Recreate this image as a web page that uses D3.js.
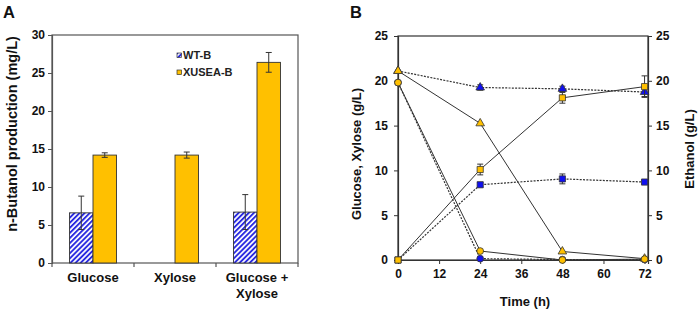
<!DOCTYPE html>
<html><head><meta charset="utf-8">
<script src="https://cdn.jsdelivr.net/npm/d3@7"></script>
<style>
html,body{margin:0;padding:0;background:#fff;}
svg{display:block;font-family:"Liberation Sans",Arial,sans-serif;font-weight:bold;}
</style></head>
<body>
<svg id="chart" width="699" height="313"></svg>
<script>
// ---------- Panel A data ----------
const categories = ["Glucose", "Xylose", "Glucose + Xylose"];
const categoryLines = [["Glucose"], ["Xylose"], ["Glucose +", "Xylose"]];
const seriesA = ["WT-B", "XUSEA-B"];
const wtB = [6.6, null, 6.7];
const wtBErr = [2.2, null, 2.3];
const xuseaB = [14.2, 14.2, 26.4];
const xuseaBErr = [0.3, 0.4, 1.3];
const yTicksA = [0, 5, 10, 15, 20, 25, 30];

// ---------- Panel B data ----------
const times = [0, 24, 48, 72];
const xTicksB = [0, 12, 24, 36, 48, 60, 72];
const yTicksB = [0, 5, 10, 15, 20, 25];
const glucoseWT = [19.8, 0.15, 0.05, 0.05];
const glucoseXU = [19.8, 1.0, 0.0, 0.1];
const xyloseWT = [21.1, 19.25, 19.1, 18.75];
const xyloseWTErr = [0, 0.3, 0.3, 0.5];
const xyloseXU = [21.1, 15.25, 0.95, 0.15];
const ethanolWT = [0, 8.4, 9.05, 8.7];
const ethanolWTErr = [0, 0.25, 0.55, 0.2];
const ethanolXU = [0, 10.1, 18.1, 19.35];
const ethanolXUErr = [0, 0.6, 0.6, 1.2];

const YELLOW = "#FFC000", BLUE = "#1010F0";
const svg = d3.select("#chart");

// hatch pattern
const defs = svg.append("defs");
const pat = defs.append("pattern").attr("id", "hatch").attr("patternUnits", "userSpaceOnUse")
  .attr("width", 3.6).attr("height", 3.6).attr("patternTransform", "rotate(45)");
pat.append("rect").attr("width", 3.6).attr("height", 3.6).attr("fill", "#fff");
pat.append("rect").attr("width", 1.9).attr("height", 3.6).attr("fill", "#2a2ae0");

// ================= Panel A =================
{
  const L = 52, R = 298, T = 35, B = 263;
  const g = svg.append("g");
  const x0 = d3.scaleBand().domain(categories).range([L, R]).padding(0);
  const x1 = d3.scaleBand().domain(seriesA).range([0, x0.bandwidth()]).paddingInner(0).paddingOuter(0.745);
  const y = d3.scaleLinear().domain([0, 30]).range([B, T]);

  const rows = categories.map((c, i) => ({c, vals: [
    {s: "WT-B", v: wtB[i], e: wtBErr[i]},
    {s: "XUSEA-B", v: xuseaB[i], e: xuseaBErr[i]}]}));

  g.append("rect").attr("x", L).attr("y", T).attr("width", R - L).attr("height", B - T)
    .attr("fill", "none").attr("stroke", "#555").attr("stroke-width", 1.2);

  const grp = g.selectAll("g.cat").data(rows).join("g")
    .attr("transform", d => `translate(${x0(d.c)},0)`);
  const bars = grp.selectAll("g.bar").data(d => d.vals.filter(v => v.v != null)).join("g");
  bars.append("rect")
    .attr("x", d => x1(d.s)).attr("width", x1.bandwidth())
    .attr("y", d => y(d.v)).attr("height", d => y(0) - y(d.v))
    .attr("fill", d => d.s === "WT-B" ? "url(#hatch)" : YELLOW)
    .attr("stroke", "#333").attr("stroke-width", 0.9);
  bars.each(function(d) {
    const cx = x1(d.s) + x1.bandwidth() / 2;
    const e = d3.select(this);
    e.append("line").attr("x1", cx).attr("x2", cx).attr("y1", y(d.v + d.e)).attr("y2", y(d.v - d.e))
      .attr("stroke", "#333").attr("stroke-width", 1);
    [d.v + d.e, d.v - d.e].forEach(v => e.append("line").attr("x1", cx - 3).attr("x2", cx + 3)
      .attr("y1", y(v)).attr("y2", y(v)).attr("stroke", "#333").attr("stroke-width", 1));
  });

  const ya = g.append("g").attr("transform", `translate(${L},0)`)
    .call(d3.axisLeft(y).tickValues(yTicksA).tickSize(4).tickPadding(3));
  ya.select(".domain").attr("stroke", "#555").attr("stroke-width", 1.2);
  ya.selectAll(".tick line").attr("stroke", "#555");
  ya.selectAll("text").attr("font-size", 12).attr("font-weight", "bold").attr("fill", "#111")
    .attr("font-family", "Liberation Sans, Arial, sans-serif");

  const bounds = categories.map(c => x0(c)).concat([R]);
  g.selectAll("line.xt").data(bounds).join("line").attr("x1", d => d).attr("x2", d => d)
    .attr("y1", B).attr("y2", B + 4).attr("stroke", "#555").attr("stroke-width", 1.2);
  categories.forEach((c, i) => {
    const t = g.append("text").attr("x", x0(c) + x0.bandwidth() / 2).attr("y", 282)
      .attr("text-anchor", "middle").attr("font-size", 13).attr("fill", "#111");
    categoryLines[i].forEach((ln, j) => t.append("tspan").attr("x", x0(c) + x0.bandwidth() / 2)
      .attr("dy", j === 0 ? 0 : 15.5).text(ln));
  });

  g.append("text").attr("transform", `translate(17,${(T + B) / 2 - 15}) rotate(-90)`)
    .attr("text-anchor", "middle").attr("font-size", 14.5).attr("fill", "#111")
    .text("n-Butanol production (mg/L)");

  const leg = g.append("g");
  seriesA.forEach((s, i) => {
    leg.append("rect").attr("x", 177).attr("y", 53 + i * 17).attr("width", 4.5).attr("height", 4.5)
      .attr("fill", i === 0 ? "url(#hatch)" : YELLOW).attr("stroke", "#333").attr("stroke-width", 0.7);
    leg.append("text").attr("x", 183).attr("y", 59 + i * 17).attr("font-size", 11).attr("fill", "#222")
      .text(s);
  });

  svg.append("text").attr("x", 3).attr("y", 18).attr("font-size", 16.5).attr("fill", "#111").text("A");
}

// ================= Panel B =================
{
  const L = 398, R = 648, T = 36, B = 260;
  const g = svg.append("g");
  const x = d3.scaleLinear().domain([0, 73]).range([L, R]);
  const yL = d3.scaleLinear().domain([0, 25]).range([B, T]);
  const yR = d3.scaleLinear().domain([0, 25]).range([B, T]);

  g.append("rect").attr("x", L).attr("y", T).attr("width", R - L).attr("height", B - T)
    .attr("fill", "none").attr("stroke", "#333").attr("stroke-width", 1.2);

  const styleAxis = (sel) => {
    sel.select(".domain").attr("stroke", "#333").attr("stroke-width", 1.2);
    sel.selectAll(".tick line").attr("stroke", "#333");
    sel.selectAll("text").attr("font-size", 12).attr("font-weight", "bold").attr("fill", "#111")
      .attr("font-family", "Liberation Sans, Arial, sans-serif");
  };
  g.append("g").attr("transform", `translate(${L},0)`)
    .call(d3.axisLeft(yL).tickValues(yTicksB).tickSize(4).tickPadding(6)).call(styleAxis);
  g.append("g").attr("transform", `translate(${R},0)`)
    .call(d3.axisRight(yR).tickValues(yTicksB).tickSize(4).tickPadding(4)).call(styleAxis);
  g.append("g").attr("transform", `translate(0,${B})`)
    .call(d3.axisBottom(x).tickValues(xTicksB).tickSize(4).tickPadding(5)).call(styleAxis);

  const series = [
    {vals: glucoseWT, err: null, sym: d3.symbolCircle, size: 36, fill: BLUE, dash: true, y: yL},
    {vals: xyloseWT, err: xyloseWTErr, sym: d3.symbolTriangle, size: 32, fill: BLUE, dash: true, y: yL},
    {vals: ethanolWT, err: ethanolWTErr, sym: d3.symbolSquare, size: 38, fill: BLUE, dash: true, y: yR},
    {vals: xyloseXU, err: null, sym: d3.symbolTriangle, size: 32, fill: YELLOW, dash: false, y: yL},
    {vals: ethanolXU, err: ethanolXUErr, sym: d3.symbolSquare, size: 38, fill: YELLOW, dash: false, y: yR},
    {vals: glucoseXU, err: null, sym: d3.symbolCircle, size: 36, fill: YELLOW, dash: false, y: yL},
  ];

  series.forEach(s => {
    const pts = times.map((t, i) => [t, s.vals[i]]);
    g.append("path").datum(pts)
      .attr("d", d3.line().x(d => x(d[0])).y(d => s.y(d[1])))
      .attr("fill", "none").attr("stroke", "#333").attr("stroke-width", s.dash ? 1.2 : 1)
      .attr("stroke-dasharray", s.dash ? "2,1.3" : null);
  });
  series.forEach(s => {
    times.forEach((t, i) => {
      const e = s.err ? s.err[i] : 0;
      if (e > 0) {
        const cx = x(t);
        g.append("line").attr("x1", cx).attr("x2", cx).attr("y1", s.y(s.vals[i] + e)).attr("y2", s.y(s.vals[i] - e))
          .attr("stroke", "#333").attr("stroke-width", 1);
        [s.vals[i] + e, s.vals[i] - e].forEach(v => g.append("line").attr("x1", cx - 3).attr("x2", cx + 3)
          .attr("y1", s.y(v)).attr("y2", s.y(v)).attr("stroke", "#333").attr("stroke-width", 1));
      }
    });
    g.selectAll(null).data(times.map((t, i) => [t, s.vals[i]])).join("path")
      .attr("transform", d => `translate(${x(d[0])},${s.y(d[1])})`)
      .attr("d", d3.symbol().type(s.sym).size(s.size))
      .attr("fill", s.fill).attr("stroke", "#333").attr("stroke-width", 0.8);
  });

  g.append("text").attr("transform", `translate(361,154) rotate(-90)`)
    .attr("text-anchor", "middle").attr("font-size", 13).attr("fill", "#111").text("Glucose, Xylose (g/L)");
  g.append("text").attr("transform", `translate(694,149) rotate(-90)`)
    .attr("text-anchor", "middle").attr("font-size", 13).attr("fill", "#111").text("Ethanol (g/L)");
  g.append("text").attr("x", 525).attr("y", 306).attr("text-anchor", "middle")
    .attr("font-size", 13).attr("fill", "#111").text("Time (h)");

  svg.append("text").attr("x", 350).attr("y", 17.5).attr("font-size", 16.5).attr("fill", "#111").text("B");
}
</script>
</body></html>
